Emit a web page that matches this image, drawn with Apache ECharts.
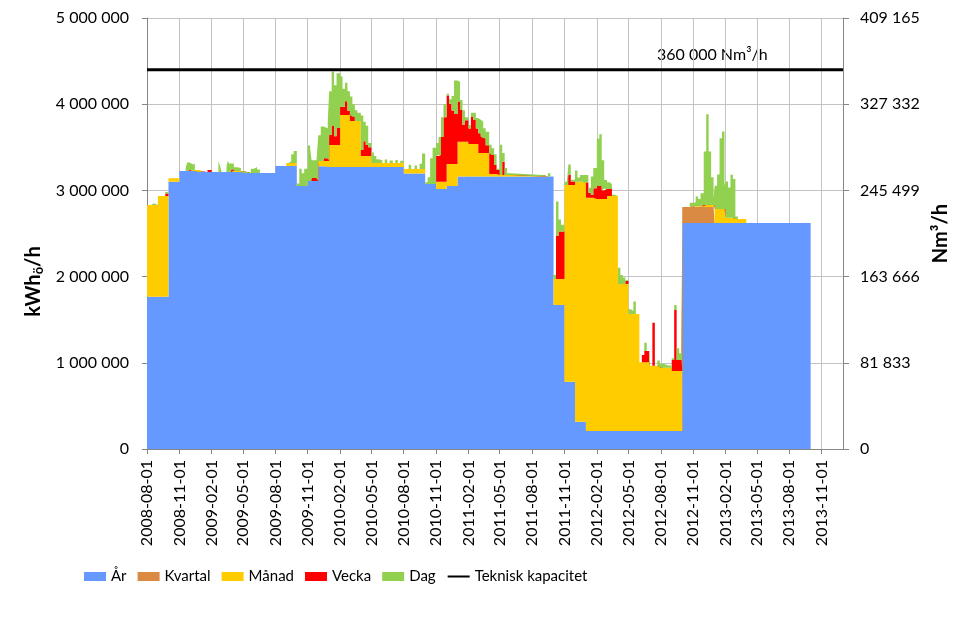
<!DOCTYPE html>
<html>
<head>
<meta charset="utf-8">
<title>Effektbehov</title>
<script src="https://cdn.jsdelivr.net/npm/echarts@6/dist/echarts.min.js"></script>
<style>
html, body { margin: 0; padding: 0; background: #fff; }
#chart { width: 977px; height: 638px; }
</style>
</head>
<body>
<div id="chart"></div>
<script>
// x axis range and tick labels (every third month)
const xStart = '2008-08-01'
const xEnd = '2014-01-01'
const tickLabels = [
  '2008-08-01', '2008-11-01', '2009-02-01', '2009-05-01', '2009-08-01', '2009-11-01',
  '2010-02-01', '2010-05-01', '2010-08-01', '2010-11-01', '2011-02-01', '2011-05-01',
  '2011-08-01', '2011-11-01', '2012-02-01', '2012-05-01', '2012-08-01', '2012-11-01',
  '2013-02-01', '2013-05-01', '2013-08-01', '2013-11-01'
]

// each series: [date the value starts, kWh/h], value holds until next date
const arSteps = [
  ['2008-08-01', 1767000], ['2008-10-01', 3100000], ['2008-11-01', 3225000], ['2009-01-01', 3213000],
  ['2009-05-01', 3202000], ['2009-08-01', 3283000], ['2009-10-01', 3050000], ['2009-11-01', 3110000],
  ['2009-12-01', 3280000], ['2010-01-01', 3272000], ['2010-08-01', 3195000], ['2010-10-01', 3074000],
  ['2010-11-01', 3016000], ['2010-12-01', 3050000], ['2011-01-01', 3160000], ['2011-10-01', 1670000],
  ['2011-11-01', 780000], ['2011-12-01', 317000], ['2012-01-01', 209000], ['2012-10-01', 2622000],
  ['2013-10-01', 0]
]

const kvartalSteps = [
  ['2008-08-01', 0], ['2012-10-01', 185000], ['2013-01-01', 0]
]

const manadSteps = [
  ['2008-08-01', 1063000], ['2008-09-01', 1168000], ['2008-10-01', 40000], ['2008-11-01', 0],
  ['2008-12-01', 12000], ['2009-01-01', 0], ['2009-04-01', 12000], ['2009-05-01', 0],
  ['2009-09-01', 35000], ['2009-10-01', 0], ['2009-12-01', 60000], ['2010-01-01', 255000],
  ['2010-02-01', 603000], ['2010-03-01', 533000], ['2010-04-01', 128000], ['2010-05-01', 46000],
  ['2010-08-01', 53000], ['2010-10-01', 0], ['2010-11-01', 84000], ['2010-12-01', 256000],
  ['2011-01-01', 405000], ['2011-02-01', 378000], ['2011-03-01', 274000], ['2011-04-01', 30000],
  ['2011-05-01', 20000], ['2011-09-01', 0], ['2011-10-01', 302000], ['2011-11-01', 2283000],
  ['2011-12-01', 2783000], ['2012-01-01', 2707000], ['2012-02-01', 2691000], ['2012-03-01', 2726000],
  ['2012-04-01', 1705000], ['2012-05-01', 1357000], ['2012-06-01', 797000], ['2012-07-01', 757000],
  ['2012-08-01', 734000], ['2012-09-01', 696000], ['2012-10-01', 0], ['2012-11-01', 10000],
  ['2012-12-01', 25000], ['2013-01-01', 162000], ['2013-02-01', 61000], ['2013-03-01', 46000],
  ['2013-04-01', 0]
]

const veckaSteps = [
  ['2008-08-01', 0], ['2008-09-22', 30000], ['2008-10-01', 0],
  ['2009-01-20', 24000], ['2009-02-01', 0], ['2009-03-28', 24000], ['2009-04-05', 0],
  ['2009-11-12', 35000], ['2009-11-26', 0], ['2009-12-16', 32000], ['2009-12-28', 0],
  ['2010-01-01', 116000], ['2010-01-08', 220000], ['2010-01-15', 100000], ['2010-01-22', 197000],
  ['2010-02-01', 96000], ['2010-02-15', 160000], ['2010-02-22', 50000],
  ['2010-03-01', 70000], ['2010-03-08', 50000], ['2010-03-15', 0],
  ['2010-04-01', 70000], ['2010-04-08', 170000], ['2010-04-15', 127000], ['2010-04-22', 100000], ['2010-05-01', 0],
  ['2010-11-01', 300000], ['2010-11-08', 310000], ['2010-11-15', 520000], ['2010-11-22', 750000],
  ['2010-12-01', 794000], ['2010-12-08', 700000], ['2010-12-15', 620000], ['2010-12-22', 580000],
  ['2011-01-01', 465000], ['2011-01-08', 368000], ['2011-01-15', 195000], ['2011-01-22', 250000],
  ['2011-02-01', 180000], ['2011-02-08', 320000], ['2011-02-15', 280000], ['2011-02-22', 180000],
  ['2011-03-01', 228000], ['2011-03-08', 190000], ['2011-03-15', 170000], ['2011-03-22', 90000],
  ['2011-04-01', 240000], ['2011-04-08', 220000], ['2011-04-15', 105000], ['2011-04-22', 50000], ['2011-05-01', 0],
  ['2011-05-08', 153000], ['2011-05-15', 0],
  ['2011-10-08', 500000], ['2011-10-15', 550000], ['2011-11-01', 0],
  ['2011-11-12', 117000], ['2011-11-19', 40000], ['2011-12-01', 0],
  ['2012-01-01', 174000], ['2012-01-08', 57000], ['2012-01-15', 30000], ['2012-01-22', 108000],
  ['2012-02-01', 150000], ['2012-02-15', 100000], ['2012-02-22', 120000],
  ['2012-03-01', 80000], ['2012-03-15', 0], ['2012-04-22', 35000], ['2012-05-01', 0],
  ['2012-06-08', 84000], ['2012-06-15', 130000], ['2012-06-29', 0],
  ['2012-07-08', 500000], ['2012-07-15', 0],
  ['2012-09-01', 128000], ['2012-09-08', 708000], ['2012-09-15', 128000], ['2012-09-29', 0]
]

const dagSteps = [
  ['2008-08-01', 0], ['2008-08-13', 20000], ['2008-08-20', 0], ['2008-09-22', 15000], ['2008-10-01', 0],
  ['2008-11-19', 35000], ['2008-11-23', 100000], ['2008-12-01', 65000], ['2008-12-08', 70000], ['2008-12-15', 0],
  ['2009-02-20', 125000], ['2009-02-25', 70000], ['2009-03-01', 0],
  ['2009-03-15', 70000], ['2009-03-19', 135000], ['2009-03-22', 100000], ['2009-03-28', 63000],
  ['2009-04-05', 45000], ['2009-04-15', 35000], ['2009-04-25', 0],
  ['2009-05-23', 50000], ['2009-06-01', 70000], ['2009-06-10', 40000], ['2009-06-18', 0],
  ['2009-09-08', 20000], ['2009-09-15', 100000], ['2009-09-22', 140000],
  ['2009-10-01', 30000], ['2009-10-08', 200000], ['2009-10-15', 150000], ['2009-10-22', 200000],
  ['2009-11-01', 410000], ['2009-11-08', 370000], ['2009-11-12', 205000], ['2009-11-26', 220000],
  ['2009-12-01', 300000], ['2009-12-08', 400000], ['2009-12-16', 350000], ['2009-12-28', 470000],
  ['2010-01-01', 507000], ['2010-01-08', 633000], ['2010-01-15', 593000], ['2010-01-22', 636000],
  ['2010-02-01', 349000], ['2010-02-08', 209000], ['2010-02-15', 213000], ['2010-02-22', 225000],
  ['2010-03-01', 215000], ['2010-03-08', 145000], ['2010-03-15', 125000], ['2010-03-22', 95000],
  ['2010-04-01', 400000], ['2010-04-08', 227000], ['2010-04-15', 223000], ['2010-04-22', 50000],
  ['2010-05-01', 122000], ['2010-05-08', 82000], ['2010-05-15', 42000], ['2010-05-22', 32000],
  ['2010-06-01', 0], ['2010-06-08', 40000], ['2010-06-15', 0], ['2010-06-22', 30000], ['2010-07-01', 0],
  ['2010-07-08', 35000], ['2010-07-15', 0], ['2010-07-22', 25000], ['2010-08-01', 0],
  ['2010-08-15', 50000], ['2010-08-22', 0], ['2010-09-01', 40000], ['2010-09-08', 0],
  ['2010-09-15', 60000], ['2010-09-22', 180000],
  ['2010-10-01', 20000], ['2010-10-08', 80000], ['2010-10-15', 300000], ['2010-10-22', 420000],
  ['2010-11-01', 150000], ['2010-11-08', 210000], ['2010-11-15', 230000], ['2010-11-22', 150000],
  ['2010-12-01', 20000], ['2010-12-08', 50000], ['2010-12-15', 170000], ['2010-12-22', 390000],
  ['2011-01-01', 230000], ['2011-01-08', 117000], ['2011-01-15', 170000], ['2011-01-22', 35000],
  ['2011-02-01', 40000], ['2011-02-08', 42000], ['2011-02-15', 82000], ['2011-02-22', 122000],
  ['2011-03-01', 158000], ['2011-03-08', 176000], ['2011-03-15', 116000], ['2011-03-22', 156000],
  ['2011-04-01', 100000], ['2011-04-08', 80000], ['2011-04-15', 125000], ['2011-04-22', 10000],
  ['2011-05-01', 350000], ['2011-05-08', 100000], ['2011-05-15', 80000], ['2011-05-22', 20000], ['2011-06-01', 0],
  ['2011-09-15', 40000], ['2011-09-22', 0],
  ['2011-10-01', 50000], ['2011-10-08', 400000], ['2011-10-15', 140000], ['2011-10-22', 80000],
  ['2011-11-01', 37000], ['2011-11-08', 57000], ['2011-11-12', 120000], ['2011-11-19', 20000],
  ['2011-12-01', 130000], ['2011-12-08', 50000], ['2011-12-15', 80000], ['2011-12-22', 80000],
  ['2012-01-01', 90000], ['2012-01-08', 57000], ['2012-01-15', 214000], ['2012-01-22', 236000],
  ['2012-02-01', 550000], ['2012-02-08', 600000], ['2012-02-15', 350000], ['2012-02-22', 100000],
  ['2012-03-01', 80000], ['2012-03-08', 60000], ['2012-03-15', 15000], ['2012-03-22', 0],
  ['2012-04-01', 190000], ['2012-04-08', 106000], ['2012-04-15', 76000], ['2012-04-22', 10000],
  ['2012-05-01', 54000], ['2012-05-08', 34000], ['2012-05-15', 144000], ['2012-05-22', 0],
  ['2012-06-15', 96000], ['2012-06-22', 0],
  ['2012-07-22', 60000], ['2012-07-29', 20000], ['2012-08-01', 47000], ['2012-08-08', 37000],
  ['2012-08-15', 27000], ['2012-08-22', 27000],
  ['2012-09-01', 20000], ['2012-09-08', 57000], ['2012-09-15', 137000], ['2012-09-22', 77000], ['2012-09-29', 195000],
  ['2012-10-01', 0], ['2012-10-22', 50000], ['2012-10-29', 40000],
  ['2012-11-01', 43000], ['2012-11-08', 113000], ['2012-11-15', 83000], ['2012-11-22', 150000],
  ['2012-12-01', 620000], ['2012-12-08', 1050000], ['2012-12-15', 620000], ['2012-12-22', 320000], ['2012-12-29', 70000],
  ['2013-01-01', 270000], ['2013-01-08', 400000], ['2013-01-15', 820000], ['2013-01-22', 900000], ['2013-01-29', 270000],
  ['2013-02-01', 420000], ['2013-02-08', 350000], ['2013-02-15', 500000], ['2013-02-22', 450000],
  ['2013-03-01', 30000], ['2013-03-08', 0]
]

const capacity = 360000 // Nm3/h, right axis

const fontFamily = 'Lato'
const axisGrey = '#868686'
const gridGrey = '#c3c3c3'

function toTime(s) {
  const [y, m, d] = s.split('-').map(Number)
  return new Date(y, m - 1, d).getTime()
}

function fmtDate(t) {
  const d = new Date(t)
  const p = n => String(n).padStart(2, '0')
  return d.getFullYear() + '-' + p(d.getMonth() + 1) + '-' + p(d.getDate())
}

function spaced(v) {
  return String(v).replace(/\B(?=(\d{3})+(?!\d))/g, ' ')
}

// stacking needs the same x values in every series
const allSteps = [arSteps, kvartalSteps, manadSteps, veckaSteps, dagSteps]
const times = Array.from(new Set(allSteps.flat().map(p => toTime(p[0])))).sort((a, b) => a - b)

function expand(steps) {
  const pts = steps.map(p => [toTime(p[0]), p[1]]).sort((a, b) => a[0] - b[0])
  let j = -1
  return times.map(t => {
    while (j + 1 < pts.length && pts[j + 1][0] <= t) j++
    return [t, j >= 0 ? pts[j][1] : 0]
  })
}

function areaSeries(name, color, steps) {
  return {
    name,
    type: 'line',
    stack: 'total',
    step: 'end',
    data: expand(steps),
    symbol: 'none',
    lineStyle: { width: 0, opacity: 0 },
    itemStyle: { color },
    areaStyle: { color, opacity: 1 },
    emphasis: { disabled: true },
    z: 2,
  }
}

const tickTimes = tickLabels.map(toTime)
const xMin = toTime(xStart)
const xMax = toTime(xEnd)

const chart = echarts.init(document.getElementById('chart'), null, { renderer: 'canvas' })

chart.setOption({
  animation: false,
  backgroundColor: '#fff',
  textStyle: { fontFamily },
  grid: { left: 147, right: 134, top: 18, bottom: 189 },
  legend: {
    left: 84,
    top: 569,
    padding: 0,
    itemWidth: 22,
    itemHeight: 9,
    itemGap: 11,
    textStyle: { fontFamily, fontSize: 15, color: '#000' },
    data: [
      { name: 'År', icon: 'rect' },
      { name: 'Kvartal', icon: 'rect' },
      { name: 'Månad', icon: 'rect' },
      { name: 'Vecka', icon: 'rect' },
      { name: 'Dag', icon: 'rect' },
      { name: 'Teknisk kapacitet', itemStyle: { opacity: 0 } },
    ],
  },
  xAxis: [
    {
      // time axis carrying the data (time dims are not summed by stacking)
      type: 'time',
      position: 'bottom',
      min: xMin,
      max: xMax,
      show: false,
      splitLine: { show: false },
    },
    {
      // plain axis for ticks, labels and grid lines every third month
      type: 'value',
      position: 'bottom',
      min: xMin,
      max: xMax,
      axisLine: { lineStyle: { color: axisGrey } },
      axisTick: { show: true, customValues: tickTimes, length: 5, lineStyle: { color: axisGrey } },
      axisLabel: {
        customValues: tickTimes,
        rotate: 90,
        margin: 11,
        formatter: v => fmtDate(v),
        color: '#000',
        fontSize: 16,
        fontFamily,
      },
      splitLine: { show: true, lineStyle: { color: gridGrey } },
    },
  ],
  yAxis: [
    {
      type: 'value',
      position: 'left',
      min: 0,
      max: 5000000,
      interval: 1000000,
      name: '{a|kWh}{b|ö}{a|/h}',
      nameLocation: 'middle',
      nameGap: 100,
      nameTextStyle: {
        padding: [0, 96, 0, 0],
        rich: {
          a: { fontFamily, fontSize: 20, fontWeight: 'bold', color: '#000', lineHeight: 24 },
          b: { fontFamily, fontSize: 13, fontWeight: 'bold', color: '#000', lineHeight: 14, padding: [10, 0, 0, 0] },
        },
      },
      axisLine: { show: true, lineStyle: { color: axisGrey } },
      axisTick: { show: true, length: 5, lineStyle: { color: axisGrey } },
      axisLabel: { formatter: spaced, color: '#000', fontSize: 16, fontFamily, margin: 18 },
      splitLine: { show: true, lineStyle: { color: gridGrey } },
    },
    {
      type: 'value',
      position: 'right',
      min: 0,
      max: 409165,
      interval: 81833,
      name: 'Nm³/h',
      nameLocation: 'middle',
      nameGap: 86,
      nameTextStyle: { fontFamily, fontSize: 20, fontWeight: 'bold', color: '#000' },
      axisLine: { show: true, lineStyle: { color: axisGrey } },
      axisTick: { show: true, length: 6, lineStyle: { color: axisGrey } },
      axisLabel: { formatter: spaced, color: '#000', fontSize: 16, fontFamily, margin: 17 },
      splitLine: { show: false },
    },
  ],
  graphic: [
    {
      type: 'text',
      left: 657,
      top: 47,
      style: { text: '360 000 Nm³/h', font: '16px Lato', fill: '#000' },
    },
  ],
  series: [
    areaSeries('År', '#6699ff', arSteps),
    areaSeries('Kvartal', '#da8a43', kvartalSteps),
    areaSeries('Månad', '#ffcc00', manadSteps),
    areaSeries('Vecka', '#ff0000', veckaSteps),
    areaSeries('Dag', '#92d050', dagSteps),
    {
      name: 'Teknisk kapacitet',
      type: 'line',
      yAxisIndex: 1,
      data: [[xMin, capacity], [xMax, capacity]],
      symbol: 'none',
      lineStyle: { color: '#000', width: 3 },
      itemStyle: { color: '#000' },
      emphasis: { disabled: true },
      z: 5,
    },
  ],
})

window.addEventListener('resize', () => chart.resize())
</script>
</body>
</html>
